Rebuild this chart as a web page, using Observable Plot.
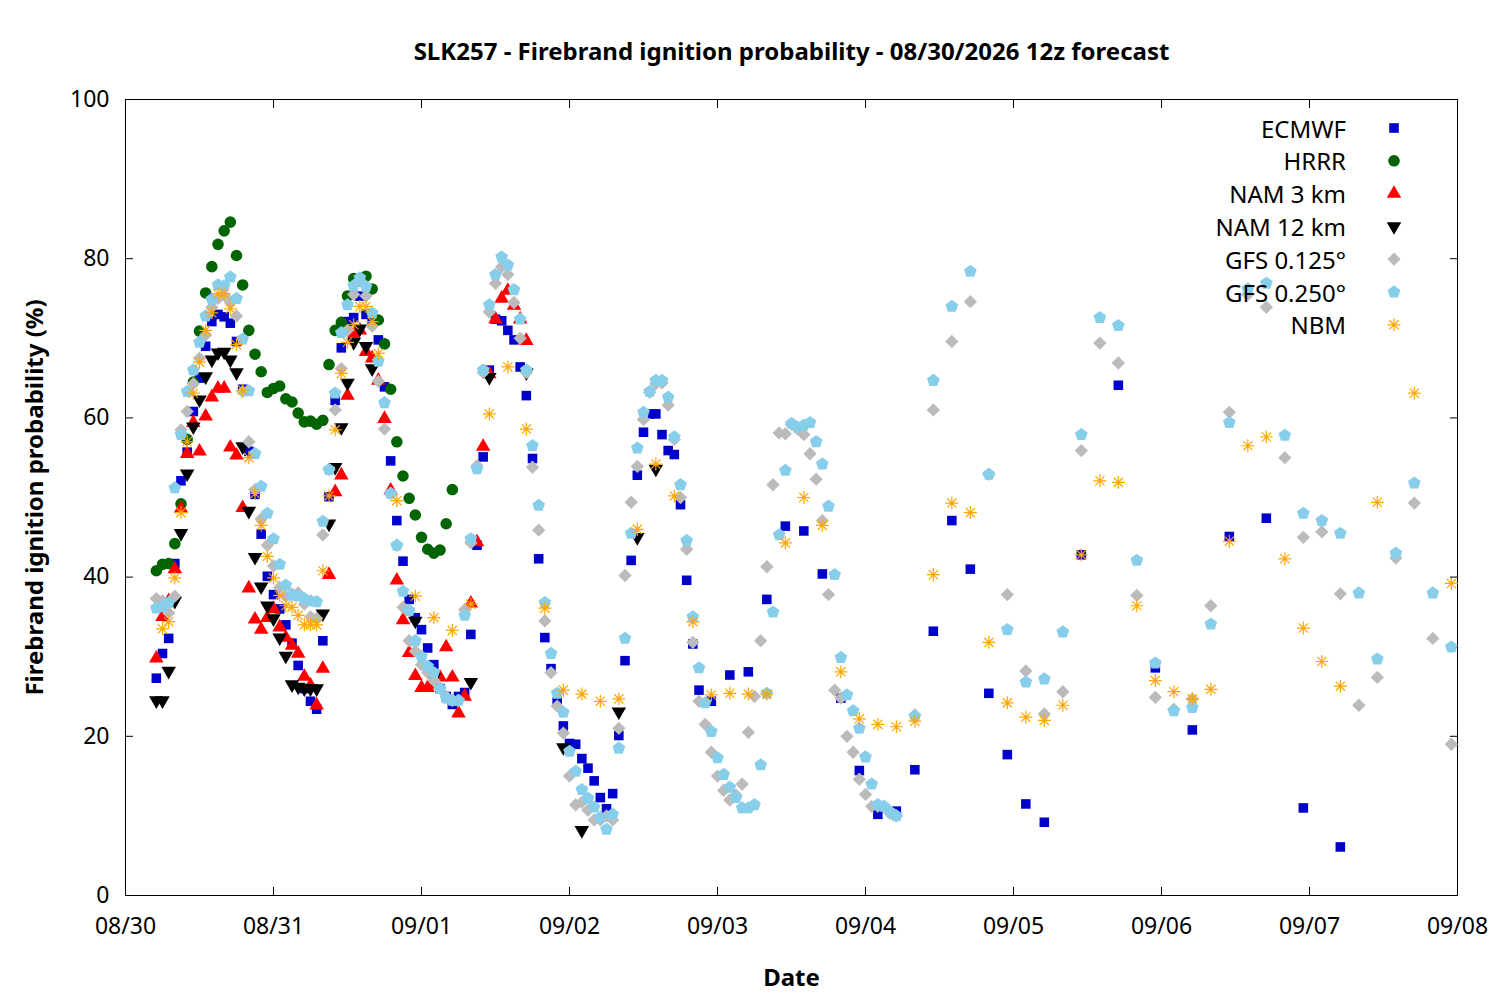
<!DOCTYPE html>
<html><head><meta charset="utf-8">
<script src="https://cdn.jsdelivr.net/npm/d3@7"></script>
<script src="https://cdn.jsdelivr.net/npm/@observablehq/plot@0.6"></script>
<style>body{margin:0;background:#fff;font-family:"Noto Sans",sans-serif}#wrap{position:relative;width:1500px;height:1000px}#legend{position:absolute;left:1150px;top:110px}</style>
</head><body><div id="wrap"><div id="chart"></div><svg id="legend" width="280" height="240"></svg></div>
<script>
const titleText = "SLK257 - Firebrand ignition probability - 08/30/2026 12z forecast";
const dayLabels = ["08/30","08/31","09/01","09/02","09/03","09/04","09/05","09/06","09/07","09/08"];
const yTicks = [0,20,40,60,80,100];

// hours since 08/30 00:00
const hrrrStart = 5;
const hrrrValues = [40.8,41.6,41.7,44.2,49.2,57.3,64.5,70.9,75.7,79.0,81.8,83.5,84.6,80.4,76.7,71.0,68.0,65.8,63.2,63.7,64.0,62.4,62.0,60.6,59.5,59.6,59.2,59.7,66.7,71.0,72.0,75.3,77.5,77.2,77.8,76.2,72.3,69.3,63.6,57.0,52.7,49.9,47.8,45.0,43.5,43.0,43.4,46.7,51.0];

const nam3Start = 5;
const nam3Values = [29.8,35.0,37.0,41.0,48.6,55.5,59.4,55.8,60.2,62.6,63.7,63.7,56.3,55.3,48.7,38.6,34.7,33.4,34.9,36.0,33.7,32.4,31.4,30.4,27.5,26.4,23.9,28.5,40.3,50.7,52.8,62.8,70.5,71.0,68.3,67.5,64.7,59.9,50.9,39.6,34.6,30.5,27.6,26.1,26.1,26.5,27.4,31.2,27.4,22.9,25.0,36.7,44.4,56.4,65.5,72.4,75.0,76.0,74.1,72.4,69.7];

const nam12Hours = [5,6,7,8,9,10,11,12,13,14,15,16,17,18,19,20,21,22,23,24,25,26,27,28,29,30,31,32,33,34,35,36,37,38,39,40,47,50,56,59,65,71,74,80,83,86];
const nam12Values = [24.5,24.5,28.2,37.0,45.5,53.0,58.9,62.3,65.2,67.3,68.2,68.3,67.3,65.7,56.4,48.3,42.5,38.8,36.4,34.8,32.4,30.1,26.5,26.2,26.0,26.0,26.0,35.4,46.7,53.8,58.8,64.4,69.5,71.2,69.0,66.2,34.5,27.4,26.8,65.1,65.7,18.6,8.2,23.1,45.0,53.6];

const ecmwfHourlyStart = 5;
const ecmwfHourly = [27.3,30.4,32.3,41.7,52.1,55.7,60.8,65.0,69.0,72.1,73.0,72.7,71.9,69.6,63.6,55.8,50.4,45.4,40.1,37.8,36.0,34.0,31.7,28.9,26.0,24.4,23.4,32.0,50.1,62.2,68.8,72.1,72.6,75.3,73.0,72.3,69.8,63.9,54.6,47.1,42.0,37.2,34.9,33.4,31.1,29.0,26.0,25.0,24.0,25.0,25.5,32.8,44.0,55.1,66.0,72.4,72.2,71.0,69.8,66.4,62.8,54.9,42.3,32.4,28.5,24.3,21.3,19.1,19.0,17.2,16.0,14.4,12.3,10.9,12.8,20.1,29.5,42.1,52.8,58.2,60.5,60.5,57.9,55.9,55.4,49.1,39.6,31.6,25.8];
const ecmwfLateHours = [95,98,101,104,107,110,113,116,119,122,125,128,131,134,137,140,143,146,149,155,161,167,173,179,185,191,197];
const ecmwfLateValues = [24.4,27.7,28.1,37.2,46.4,45.8,40.4,24.8,15.7,10.2,10.6,15.8,33.2,47.1,41.0,25.4,17.7,11.5,9.2,42.8,64.1,28.6,20.8,45.1,47.4,11.0,6.1];

const gfsHourlyStart = 5;
const gfs125Hourly = [37.3,37.0,35.5,37.6,58.5,60.8,64.3,67.5,70.4,73.9,75.0,75.4,74.5,72.8,63.3,57.0,51.0,47.3,44.0,41.4,38.7,37.6,37.9,38.0,36.6,35.0,34.8,45.3,53.5,61.0,66.2,71.0,75.5,77.3,75.3,71.5,64.6,58.6,50.5,44.0,36.2,32.0,30.7,29.0,28.0,27.0,26.0,25.0,24.5,24.5,35.9,44.3,54.0,65.7,73.3,76.9,79.0,78.0,74.5,70.0,65.7,53.8,45.9,34.5,28.0,23.8,20.4,15.0,11.4,11.7,10.7,9.5,9.5,10.0,9.5,21.0,40.2,49.4,53.9,59.8,63.2,64.3,64.4,61.6,57.3,50.0,43.5,31.8,24.4,21.5,18.0,15.0,13.2,12.0,12.6,14.0,20.5,25.0,32.0,41.3,51.6,58.1,58.0,59.2,58.6,57.9,55.5,52.3,47.1,37.8,25.8,24.8,20.0,18.0,14.6,12.7,11.2,11.2,11.2,10.3,10.0];
const gfs250Hourly = [36.1,36.3,36.8,51.2,57.9,63.3,66.0,69.5,72.8,74.9,76.7,76.6,77.7,75.0,69.9,63.4,55.5,51.4,48.0,44.8,41.6,39.0,37.7,37.6,37.3,37.0,36.9,47.0,53.5,63.1,70.7,74.2,76.6,77.6,76.5,73.2,67.1,61.9,50.5,44.0,38.2,35.8,32.0,30.0,28.8,28.0,26.0,24.8,24.5,24.5,35.2,44.8,53.6,66.0,74.2,78.0,80.2,79.2,76.1,72.4,66.0,56.5,49.0,36.8,30.4,25.4,23.0,18.1,15.6,13.3,12.2,11.1,9.8,8.3,10.2,18.5,32.3,45.5,56.2,60.7,63.3,64.7,64.7,62.6,57.6,51.6,44.6,35.0,28.6,24.2,20.6,17.3,15.2,13.6,12.3,11.0,11.0,11.4,16.4,25.4,35.6,45.3,53.4,59.3,58.8,59.1,59.4,57.0,54.2,48.9,40.3,29.9,25.2,23.2,21.0,17.4,14.0,11.4,11.2,10.5,10.0];
const gfsLateHours = [128,131,134,137,140,143,146,149,152,155,158,161,164,167,170,173,176,179,182,185,188,191,194,197,200,203,206,209,212,215];
const gfs125Late = [22.7,61.0,69.6,74.6,52.9,37.8,28.2,22.8,25.6,55.9,69.4,66.9,37.7,24.9,23.4,24.7,36.4,60.7,75.5,73.9,55.0,45.0,45.7,37.9,23.9,27.4,42.4,49.3,32.3,19.0];
const gfs250Late = [22.5,64.7,74.0,78.4,52.9,33.4,26.8,27.2,33.1,57.9,72.6,71.6,42.1,29.2,23.2,23.6,34.1,59.4,76.2,76.9,57.8,48.0,47.1,45.5,38.0,29.7,43.0,51.8,38.0,31.2];

const nbmHours = [6,7,8,9,10,11,12,13,14,15,16,17,18,19,20,21,22,23,24,25,26,27,28,29,30,31,32,33,34,35,36,37,38,39,40,41,44,47,50,53,56,59,62,65,68,71,74,77,80,83,86,89,92,95,98,101,104,107,110,113,116,119,122,125,128,131,134,137,140,143,146,149,152,155,158,161,164,167,170,173,176,179,182,185,188,191,194,197,203,209,215];
const nbmValues = [33.5,34.4,39.9,48.1,57.0,63.1,67.0,71.0,73.2,75.6,75.6,73.7,69.2,63.5,55.0,50.5,46.5,42.6,39.9,37.7,36.4,36.2,35.2,34.0,34.0,34.0,40.8,50.2,58.5,65.6,69.5,71.7,74.0,74.0,72.1,68.1,49.6,37.6,34.9,33.3,36.6,60.5,66.4,58.6,36.1,25.8,25.3,24.4,24.7,46.0,54.2,50.2,34.4,25.2,25.4,25.3,25.3,44.3,50.0,46.5,28.1,22.2,21.5,21.2,21.9,40.3,49.3,48.1,31.8,24.2,22.4,22.0,23.9,42.8,52.1,51.9,36.4,27.0,25.6,24.7,25.9,44.5,56.5,57.6,42.3,33.6,29.4,26.3,49.4,63.1,39.2];

const seriesNames = ["ECMWF","HRRR","NAM 3 km","NAM 12 km","GFS 0.125°","GFS 0.250°","NBM"];
const seriesColors = ["#0000cc","#006400","#ff0000","#000000","#bbbbbb","#87ceeb","#ffa500"];

// custom symbols
const triDown = {draw(c, size){const s3=Math.sqrt(3);const y=-Math.sqrt(size/(s3*3));c.moveTo(0,-y*2);c.lineTo(-s3*y,y);c.lineTo(s3*y,y);c.closePath();}};
const pentagon = {draw(c, size){const R=Math.sqrt(size/(2.5*Math.sin(2*Math.PI/5)));for(let k=0;k<5;k++){const a=-Math.PI/2+k*2*Math.PI/5;const x=R*Math.cos(a),y=R*Math.sin(a);k?c.lineTo(x,y):c.moveTo(x,y);}c.closePath();}};
const star8 = {draw(c, size){const r=Math.sqrt(size/Math.PI);for(let k=0;k<4;k++){const a=k*Math.PI/4;c.moveTo(-r*Math.cos(a),-r*Math.sin(a));c.lineTo(r*Math.cos(a),r*Math.sin(a));}}};
const symbols = ["square","circle","triangle",triDown,"diamond2",pentagon,star8];
const sizes = [5.4,5.8,5.4,5.4,6.0,5.8,6.5];

const toPts = (hours, vals) => vals.map((v,i)=>({h:hours[i], v}));
const seq = (start, vals) => vals.map((v,i)=>({h:start+i, v}));
const data = [
  seq(ecmwfHourlyStart, ecmwfHourly).concat(toPts(ecmwfLateHours, ecmwfLateValues)),
  seq(hrrrStart, hrrrValues),
  seq(nam3Start, nam3Values),
  toPts(nam12Hours, nam12Values),
  seq(gfsHourlyStart, gfs125Hourly).concat(toPts(gfsLateHours, gfs125Late)),
  seq(gfsHourlyStart, gfs250Hourly).concat(toPts(gfsLateHours, gfs250Late)),
  toPts(nbmHours, nbmValues)
];

const dayTicks = dayLabels.map((d,i)=>i*24);
const marks = [];
data.forEach((pts,i)=>{
  const isStroke = i===6;
  marks.push(Plot.dot(pts,{x:"h",y:"v",symbol:()=>symbols[i],r:sizes[i],
    fill:isStroke?"none":seriesColors[i],stroke:isStroke?seriesColors[i]:"none",strokeWidth:1.2}));
});

const chart = Plot.plot({
  width:1500,height:1000,marginTop:99,marginBottom:105,marginLeft:125,marginRight:43,
  style:{fontFamily:"Noto Sans",fontSize:"23px",color:"#000",background:"#fff"},
  symbol:{type:"identity"},
  x:{domain:[0,216]},
  y:{domain:[0,100]},
  marks:[
    Plot.frame({stroke:"#000",strokeWidth:1}),
    ...marks,
    Plot.axisX({ticks:dayTicks,tickFormat:(d)=>dayLabels[d/24],tickSize:-8,tickPadding:30,label:"Date",labelAnchor:"center",labelArrow:"none",labelOffset:90,fontSize:23}),
    Plot.axisX({anchor:"top",ticks:dayTicks,tickFormat:()=>"",tickSize:-8,label:null}),
    Plot.axisY({ticks:yTicks,tickSize:-8,tickPadding:24,label:"Firebrand ignition probability (%)",labelAnchor:"center",labelArrow:"none",labelOffset:100,fontSize:23}),
    Plot.axisY({anchor:"right",ticks:yTicks,tickFormat:()=>"",tickSize:-8,label:null}),
    Plot.text([titleText],{frameAnchor:"top",dy:-57,text:d=>d,fontSize:24,fontWeight:"bold"})
  ]
});
document.getElementById("chart").appendChild(chart);
d3.select(chart).selectAll("[aria-label='x-axis label'] text, [aria-label='y-axis label'] text").attr("font-weight","bold").style("font-size","24px");

// legend
const lg = d3.select("#legend");
seriesNames.forEach((name,i)=>{
  const y = 18 + i*32.8;
  lg.append("text").attr("x",196).attr("y",y).attr("text-anchor","end").attr("dominant-baseline","central")
    .style("font-family","Noto Sans").style("font-size","24px").text(name);
  const sym = typeof symbols[i]==="string" ? {square:d3.symbolSquare,circle:d3.symbolCircle,triangle:d3.symbolTriangle,diamond2:d3.symbolDiamond2}[symbols[i]] : symbols[i];
  const r = sizes[i];
  lg.append("path").attr("transform",`translate(244,${y})`).attr("d",d3.symbol(sym,Math.PI*r*r)())
    .attr("fill",i===6?"none":seriesColors[i]).attr("stroke",i===6?seriesColors[i]:"none").attr("stroke-width",1.2);
});
</script></body></html>
